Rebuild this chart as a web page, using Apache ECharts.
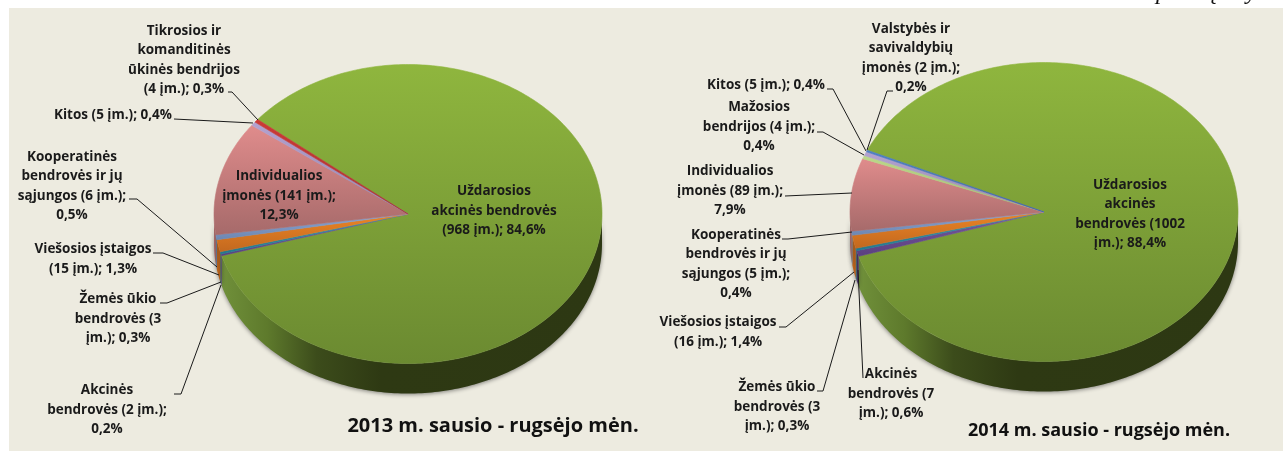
<!DOCTYPE html>
<html>
<head>
<meta charset="utf-8">
<style>
  html, body { margin: 0; padding: 0; background: #fff; }
  #chart { width: 1283px; height: 452px; }
</style>
<script src="https://cdn.jsdelivr.net/npm/echarts@6/dist/echarts.min.js"></script>
</head>
<body>
<div id="chart"></div>
<script>
// 2013 duomenys, pagal laikrodzio rodykle nuo zalio sektoriaus
const names2013 = ['Uždarosios akcinės bendrovės', 'Akcinės bendrovės', 'Žemės ūkio bendrovės', 'Viešosios įstaigos', 'Kooperatinės bendrovės ir jų sąjungos', 'Individualios įmonės', 'Kitos', 'Tikrosios ir komanditinės ūkinės bendrijos'];
const counts2013 = [968, 2, 3, 15, 6, 141, 5, 4];
const labels2013 = [
    'Uždarosios\nakcinės bendrovės\n(968 įm.); 84,6%',
    'Akcinės\nbendrovės (2 įm.);\n0,2%',
    'Žemės ūkio\nbendrovės (3\nįm.); 0,3%',
    'Viešosios įstaigos\n(15 įm.); 1,3%',
    'Kooperatinės\nbendrovės ir jų\nsąjungos (6 įm.);\n0,5%',
    'Individualios\nįmonės (141 įm.);\n12,3%',
    'Kitos (5 įm.); 0,4%',
    'Tikrosios ir\nkomanditinės\nūkinės bendrijos\n(4 įm.); 0,3%'
];
const colors2013 = ['green', 'purple', 'teal', 'orange', 'blue', 'pink', 'lilac', 'red'];

// 2014 duomenys
const names2014 = ['Uždarosios akcinės bendrovės', 'Akcinės bendrovės', 'Žemės ūkio bendrovės', 'Viešosios įstaigos', 'Kooperatinės bendrovės ir jų sąjungos', 'Individualios įmonės', 'Mažosios bendrijos', 'Kitos', 'Valstybės ir savivaldybių įmonės'];
const counts2014 = [1002, 7, 3, 16, 5, 89, 4, 5, 2];
const labels2014 = [
    'Uždarosios\nakcinės\nbendrovės (1002\nįm.); 88,4%',
    'Akcinės\nbendrovės (7\nįm.); 0,6%',
    'Žemės ūkio\nbendrovės (3\nįm.); 0,3%',
    'Viešosios įstaigos\n(16 įm.); 1,4%',
    'Kooperatinės\nbendrovės ir jų\nsąjungos (5 įm.);\n0,4%',
    'Individualios\nįmonės (89 įm.);\n7,9%',
    'Mažosios\nbendrijos (4 įm.);\n0,4%',
    'Kitos (5 įm.); 0,4%',
    'Valstybės ir\nsavivaldybių\nįmonės (2 įm.);\n0,2%'
];
const colors2014 = ['green', 'purple', 'teal', 'orange', 'blue', 'pink', 'lime', 'lilac', 'navy'];

const title2013 = '2013 m. sausio - rugsėjo mėn.';
const title2014 = '2014 m. sausio - rugsėjo mėn.';
const captionText = '6 pav. tęsinys';

// etikeciu isdestymas: tekstas [x, y] ir linijos taskai (null - etikete sektoriuje be linijos)
const layout2013 = [
    { at: [494, 211], line: null },
    { at: [107, 410], line: [[174, 394], [181, 394], [221, 285]] },
    { at: [118, 319], line: [[160, 303], [167, 303], [221, 282]] },
    { at: [93, 259], line: [[153, 253], [163, 253], [219, 275]] },
    { at: [72, 186], line: [[129, 199], [137, 199], [217, 267]] },
    { at: [279, 196], line: null },
    { at: [113, 115], line: [[174, 119], [253, 123]] },
    { at: [184, 60], line: [[228, 92], [232, 92], [258, 120]] }
];
const layout2014 = [
    { at: [1130, 214], line: null },
    { at: [891, 394], line: [[863, 378], [858, 270]] },
    { at: [777, 407], line: [[817, 391], [823, 391], [855, 280]] },
    { at: [718, 332], line: [[779, 327], [786, 327], [854, 272]] },
    { at: [736, 264], line: [[782, 239], [788, 239], [852, 232]] },
    { at: [730, 191], line: [[785, 196], [852, 193]] },
    { at: [759, 127], line: [[817, 132], [823, 132], [864, 155]] },
    { at: [766, 85], line: [[827, 89], [833, 89], [866, 151]] },
    { at: [911, 58], line: [[893, 91], [887, 91], [867, 150]] }
];

const faceColors = {
    green: ['#8fb63e', '#6b8a31'],
    purple: ['#7a5aa0', '#5a3f80'],
    teal: ['#2f9ab5', '#24788c'],
    orange: ['#ec8525', '#c2681f'],
    blue: ['#8aa6d6', '#6d86b0'],
    pink: ['#e08c8c', '#a66a6a'],
    lilac: ['#b3a2d0', '#9384b0'],
    red: ['#cc3a36', '#a83030'],
    lime: ['#bcd88a', '#a0bc72'],
    navy: ['#4d7fc4', '#3a66a2']
};
const wallColors = {
    green: [[0, '#70903a'], [0.12, '#5e7a2c'], [0.25, '#3c4c1b'], [0.42, '#2e3913'], [1, '#2d3813']],
    purple: [[0, '#4a3468'], [1, '#4a3468']],
    teal: [[0, '#1f6072'], [1, '#1f6072']],
    orange: [[0, '#c0661c'], [1, '#a85a18']],
    blue: [[0, '#5f7498'], [1, '#5f7498']],
    pink: [[0, '#a86a6a'], [1, '#8a5555']],
    lilac: [[0, '#8070a0'], [1, '#8070a0']],
    red: [[0, '#902828'], [1, '#902828']],
    lime: [[0, '#8ca464'], [1, '#8ca464']],
    navy: [[0, '#305688'], [1, '#305688']]
};

const LABEL_FONT = 'bold 13.5px "Open Sans", Lato, sans-serif';
const TITLE_FONT_2013 = 'bold 20px "Open Sans", Lato, sans-serif';
const TITLE_FONT_2014 = 'bold 18px "Open Sans", Lato, sans-serif';
const RX = 194, RY = 149.5, DEPTH = 30;

function rim(cx, cy, deg, dy = 0) {
    const a = deg * Math.PI / 180;
    return [cx + RX * Math.sin(a), cy - RY * Math.cos(a) + dy];
}

function linear(x, y, x2, y2, stops) {
    return { type: 'linear', x, y, x2, y2, colorStops: stops.map(s => ({ offset: s[0], color: s[1] })) };
}

function buildPie(name, names, counts, labels, colors, layout, cx, cy, startDeg) {
    const total = counts.reduce((a, b) => a + b, 0);
    return {
        type: 'custom',
        name: name,
        coordinateSystem: 'none',
        data: counts.map((v, i) => ({ name: names[i], value: v })),
        animation: false,
        silent: true,
        renderItem: function (params, api) {
            const i = params.dataIndex;
            let before = 0;
            for (let k = 0; k < i; k++) before += counts[k];
            const a0 = startDeg + before / total * 360;
            const a1 = a0 + api.value(0) / total * 360;
            const children = [];

            // virsutine sektoriaus dalis
            const face = [[cx, cy]];
            for (let d = a0; d < a1; d += 1) face.push(rim(cx, cy, d));
            face.push(rim(cx, cy, a1));
            const fc = faceColors[colors[i]];
            const fill = linear(0, 0, 0, 1, [[0, fc[0]], [1, fc[1]]]);
            children.push({
                type: 'polygon', z2: 10,
                shape: { points: face },
                style: { fill: fill, stroke: fill, lineWidth: 0.6 }
            });

            // sonine siena matoma tik apatineje puseje (90-270 laipsniu)
            for (const turn of [0, 360]) {
                const w0 = Math.max(a0, 90 + turn), w1 = Math.min(a1, 270 + turn);
                if (w1 <= w0) continue;
                const top = [], bottom = [];
                for (let d = w0; d < w1; d += 1) {
                    top.push(rim(cx, cy, d));
                    bottom.unshift(rim(cx, cy, d, DEPTH));
                }
                top.push(rim(cx, cy, w1));
                bottom.unshift(rim(cx, cy, w1, DEPTH));
                children.push({
                    type: 'polygon', z2: 5,
                    shape: { points: top.concat(bottom) },
                    style: {
                        fill: linear(0, 0, 1, 0, wallColors[colors[i]]),
                        stroke: null,
                        shadowBlur: 4, shadowColor: 'rgba(40,40,40,0.55)', shadowOffsetY: 1
                    }
                });
            }

            // etikete ir jos linija
            const item = layout[i];
            children.push({
                type: 'text', z2: 30,
                style: {
                    text: labels[i], x: item.at[0], y: item.at[1],
                    align: 'center', verticalAlign: 'middle',
                    font: LABEL_FONT, lineHeight: 19.4, fill: '#1a1a1a'
                }
            });
            if (item.line) {
                children.push({
                    type: 'polyline', z2: 20,
                    shape: { points: item.line },
                    style: { stroke: '#1a1a1a', lineWidth: 1, fill: null }
                });
            }
            return { type: 'group', children };
        }
    };
}

const chart = echarts.init(document.getElementById('chart'), null, { renderer: 'canvas' });
chart.setOption({
    animation: false,
    backgroundColor: '#ffffff',
    graphic: [
        { type: 'rect', z: -10, shape: { x: 9, y: 8, width: 1274, height: 443 }, style: { fill: '#edebe0' } },
        { type: 'text', z: 5, style: { text: title2013, x: 493, y: 426, align: 'center', verticalAlign: 'middle', font: TITLE_FONT_2013, fill: '#111' } },
        { type: 'text', z: 5, style: { text: title2014, x: 1099, y: 431, align: 'center', verticalAlign: 'middle', font: TITLE_FONT_2014, fill: '#111' } },
        { type: 'text', z: -20, style: { text: captionText, x: 1138, y: 5, align: 'left', verticalAlign: 'bottom', font: 'italic 24px "Liberation Serif", serif', fill: '#111' } }
    ],
    series: [
        buildPie('2013', names2013, counts2013, labels2013, colors2013, layout2013, 408, 214, 309.2),
        buildPie('2014', names2014, counts2014, labels2014, colors2014, layout2014, 1044, 212, 294.4)
    ]
});
window.addEventListener('resize', () => chart.resize());
</script>
</body>
</html>
